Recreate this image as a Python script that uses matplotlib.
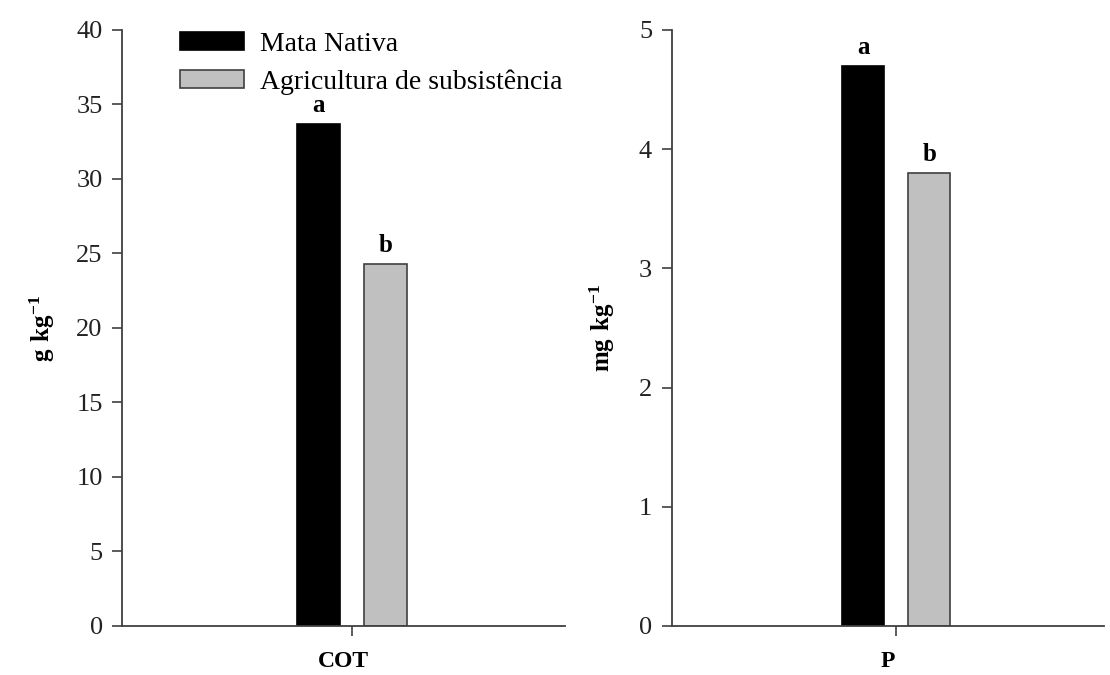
import numpy as np
import matplotlib.pyplot as plt

plt.rcParams['font.family'] = 'Liberation Serif'
plt.rcParams['mathtext.fontset'] = 'custom'
plt.rcParams['mathtext.rm'] = 'Liberation Serif'
plt.rcParams['mathtext.bf'] = 'Liberation Serif:bold'

labels = ['Mata Nativa', 'Agricultura de subsistência']
cot = [33.7, 24.3]
p = [4.7, 3.8]
letters = ['a', 'b']
colors = ['black', '#c0c0c0']
edges = ['black', '#404040']

fig = plt.figure(figsize=(11.1, 6.75), dpi=100)
ax1 = fig.add_axes([0.110, 0.0726, 0.399, 0.883])
ax2 = fig.add_axes([0.605, 0.0726, 0.390, 0.883])

offs = [-0.152, 0.152]
w = 0.194

def draw(ax, vals, ymax, step, xname, yname, ypad):
    bars = []
    for i in range(2):
        b = ax.bar(offs[i], vals[i], width=w, color=colors[i], edgecolor=edges[i],
                   linewidth=1.2, label=labels[i])
        bars.append(b)
        ax.text(offs[i], vals[i] + ymax * 0.012, letters[i], ha='center', va='bottom',
                fontsize=18, fontweight='bold')
    ax.set_xlim(-1.038, 0.962)
    ax.set_ylim(0, ymax)
    ax.set_yticks(np.arange(0, ymax + step / 2, step))
    ax.set_xticks([0])
    ax.set_xticklabels([''])
    for s in ['top', 'right']:
        ax.spines[s].set_visible(False)
    for s in ['left', 'bottom']:
        ax.spines[s].set_color('#404040')
        ax.spines[s].set_linewidth(1.3)
    ax.tick_params(direction='out', length=7, width=1.2, color='#404040',
                   labelsize=19, pad=7, labelcolor='#222222')
    ax.set_xlabel(xname, fontsize=17, fontweight='bold', labelpad=4)
    ax.set_ylabel(yname, fontsize=18, labelpad=ypad)
    return bars

bars = draw(ax1, cot, 40, 5, 'COT', r'$\mathbf{g\ kg^{-1}}$', 14)
draw(ax2, p, 5, 1, 'P', r'$\mathbf{mg\ kg^{-1}}$', 16)

fig.legend(handles=[bars[0], bars[1]], labels=labels, loc='upper left',
           bbox_to_anchor=(0.14, 0.99), frameon=False, fontsize=20,
           handlelength=2.3, handleheight=0.65, labelspacing=0.45, handletextpad=0.55)

fig.savefig('out.png', dpi=100)
